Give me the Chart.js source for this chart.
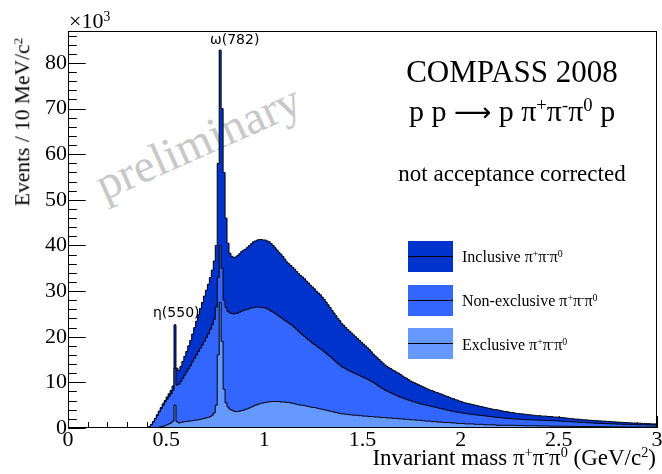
<!DOCTYPE html>
<html>
<head>
<meta charset="utf-8">
<script src="https://cdn.jsdelivr.net/npm/chart.js@4/dist/chart.umd.min.js"></script>
<style>
  body { margin: 0; background: #fff; }
  #wrap { position: relative; width: 662px; height: 474px; overflow: hidden; }
  #wrap canvas { position: absolute; left: 0; top: 0; z-index: 1; }
  .t { position: absolute; white-space: nowrap; line-height: 1; z-index: 2; color: #000;
       font-family: "Liberation Serif", "DejaVu Serif", serif; }
  .t sup { font-size: 62%; vertical-align: 0.55em; line-height: 0; }
  .sans { font-family: "DejaVu Sans", sans-serif; }
  .prelim { position: absolute; z-index: 0; left: 198px; top: 142px; font-size: 47px; color: #c8c8c8;
            font-family: "Liberation Serif", serif; line-height: 1; white-space: nowrap;
            transform: translate(-50%, -50%) rotate(-24deg); }
  .box { position: absolute; left: 408px; width: 45px; height: 31px; z-index: 2; }
  .box::after { content: ""; position: absolute; left: 0; right: 0; top: 15px; height: 1px; background: #000; }
</style>
</head>
<body>
<div id="wrap">
  <div class="prelim">preliminary</div>
  <canvas id="c" width="662" height="474"></canvas>

  <div class="t" style="left:69px; top:10px; font-size:22px;">&times;10<sup>3</sup></div>
  <div class="t" style="left:23px; top:122px; font-size:21.5px; transform: translate(-50%,-50%) rotate(-90deg);">Events / 10 MeV/c<sup>2</sup></div>
  <div class="t" style="right:6px; top:446px; font-size:23px;">Invariant mass &pi;<sup>+</sup>&pi;<sup>-</sup>&pi;<sup>0</sup> (GeV/c<sup>2</sup>)</div>

  <div class="t" style="left:512px; top:56px; font-size:31px; transform: translateX(-50%);">COMPASS 2008</div>
  <div class="t" style="left:512px; top:96px; font-size:30px; transform: translateX(-50%);">p p <span style="font-family:'DejaVu Sans'; font-size:26px;">&#x27F6;</span> p &pi;<sup>+</sup>&pi;<sup>-</sup>&pi;<sup>0</sup> p</div>
  <div class="t" style="left:512px; top:162px; font-size:23px; transform: translateX(-50%);">not acceptance corrected</div>

  <div class="t sans" style="left:153px; top:305px; font-size:14px;">&eta;(550)</div>
  <div class="t sans" style="left:210px; top:32px; font-size:14px;">&omega;(782)</div>

  <div class="box" style="top:241px; background:#0033cc;"></div>
  <div class="box" style="top:285px; background:#3366ff;"></div>
  <div class="box" style="top:328px; background:#6699ff;"></div>
  <div class="t" style="left:462px; top:249px; font-size:16px;">Inclusive &pi;<sup>+</sup>&pi;<sup>-</sup>&pi;<sup>0</sup></div>
  <div class="t" style="left:462px; top:293px; font-size:16px;">Non-exclusive &pi;<sup>+</sup>&pi;<sup>-</sup>&pi;<sup>0</sup></div>
  <div class="t" style="left:462px; top:337px; font-size:16px;">Exclusive &pi;<sup>+</sup>&pi;<sup>-</sup>&pi;<sup>0</sup></div>
</div>

<script>
// histogram bins: 10 MeV wide, first stored bin starts at 0.40 GeV (all lower bins are empty)
const firstBin = 40;      // in units of 10 MeV
const lastEdge = 3.0;     // GeV

// events per bin (x10^3)
const inclusive = [
  0, 0, 0.3, 0.8, 1.4, 2.1, 2.9, 3.7, 4.5, 5.3,
  6.0, 6.8, 7.5, 8.2, 9.2, 22.6, 13.1, 12.6, 13.5, 14.6,
  15.7, 16.8, 18.0, 19.2, 20.6, 22.0, 23.4, 24.8, 26.2, 27.5,
  28.9, 30.2, 31.5, 33.0, 34.6, 36.6, 40.0, 58.0, 82.8, 70.0,
  56.0, 46.0, 40.5, 38.3, 37.6, 37.4, 37.5, 37.8, 38.2, 38.7,
  39.0, 39.2, 39.6, 40.0, 40.4, 40.8, 41.0, 41.2, 41.3, 41.3,
  41.2, 41.2, 41.0, 40.8, 40.4, 40.0, 39.5, 39.0, 38.5, 38.1,
  37.6, 37.0, 36.4, 36.0, 35.6, 35.2, 34.8, 34.3, 33.8, 33.4,
  33.1, 32.7, 32.2, 31.8, 31.3, 30.9, 30.5, 30.0, 29.6, 29.2,
  28.7, 28.2, 27.6, 27.0, 26.4, 25.8, 25.2, 24.6, 24.0, 23.5,
  22.9, 22.5, 22.0, 21.6, 21.2, 20.8, 20.4, 20.0, 19.6, 19.2,
  18.8, 18.4, 18.0, 17.6, 17.2, 16.7, 16.2, 15.8, 15.4, 15.0,
  14.6, 14.2, 13.8, 13.5, 13.2, 13.0, 12.7, 12.5, 12.2, 12.0,
  11.7, 11.4, 11.1, 10.9, 10.6, 10.3, 10.1, 9.9, 9.7, 9.5,
  9.3, 9.1, 8.9, 8.7, 8.5, 8.3, 8.2, 8.0, 7.8, 7.7,
  7.5, 7.4, 7.2, 7.0, 6.9, 6.7, 6.5, 6.4, 6.2, 6.1,
  5.9, 5.8, 5.6, 5.5, 5.4, 5.3, 5.2, 5.1, 5.0, 4.9,
  4.8, 4.7, 4.6, 4.5, 4.4, 4.3, 4.2, 4.1, 4.0, 4.0,
  3.9, 3.8, 3.7, 3.6, 3.6, 3.5, 3.4, 3.4, 3.3, 3.2,
  3.2, 3.1, 3.1, 3.0, 3.0, 2.9, 2.9, 2.8, 2.8, 2.7,
  2.7, 2.7, 2.6, 2.6, 2.6, 2.5, 2.5, 2.5, 2.4, 2.4,
  2.4, 2.35, 2.3, 2.25, 2.2, 2.15, 2.1, 2.05, 2.0, 1.95,
  1.95, 1.9, 1.85, 1.8, 1.8, 1.75, 1.7, 1.7, 1.65, 1.6,
  1.6, 1.55, 1.55, 1.5, 1.5, 1.45, 1.45, 1.4, 1.35, 1.35,
  1.3, 1.3, 1.25, 1.25, 1.2, 1.2, 1.15, 1.15, 1.1, 1.1,
  1.1, 1.05, 1.05, 1.0, 1.0, 1.0, 0.95, 0.95, 0.9, 0.9
];

const nonExclusive = [
  0, 0, 0.2, 0.7, 1.3, 2.0, 2.7, 3.5, 4.2, 5.0,
  5.7, 6.3, 6.9, 7.5, 8.2, 13.1, 9.4, 9.6, 10.2, 10.9,
  11.6, 12.3, 13.0, 13.7, 14.5, 15.3, 16.0, 16.8, 17.5, 18.2,
  19.0, 19.8, 20.6, 21.6, 22.6, 23.8, 26.5, 33.0, 40.0, 35.0,
  28.0, 26.4, 25.6, 25.2, 25.1, 25.0, 25.1, 25.2, 25.4, 25.6,
  25.8, 25.9, 26.0, 26.2, 26.3, 26.4, 26.5, 26.5, 26.5, 26.4,
  26.4, 26.3, 26.1, 25.9, 25.6, 25.4, 25.1, 24.8, 24.5, 24.2,
  23.9, 23.6, 23.3, 23.0, 22.7, 22.4, 22.0, 21.6, 21.2, 20.8,
  20.4, 20.1, 19.7, 19.3, 19.0, 18.6, 18.3, 18.0, 17.7, 17.4,
  17.1, 16.7, 16.4, 16.0, 15.7, 15.3, 14.9, 14.5, 14.1, 13.8,
  13.4, 13.2, 13.0, 12.7, 12.5, 12.3, 12.1, 11.9, 11.7, 11.5,
  11.3, 11.1, 10.9, 10.7, 10.5, 10.2, 10.0, 9.7, 9.4, 9.1,
  8.8, 8.6, 8.3, 8.1, 7.9, 7.7, 7.5, 7.3, 7.1, 6.9,
  6.7, 6.6, 6.4, 6.3, 6.1, 6.0, 5.8, 5.7, 5.6, 5.4,
  5.3, 5.2, 5.1, 5.0, 4.9, 4.8, 4.7, 4.6, 4.5, 4.4,
  4.3, 4.2, 4.1, 4.0, 3.9, 3.8, 3.7, 3.6, 3.5, 3.45,
  3.4, 3.3, 3.25, 3.2, 3.1, 3.05, 3.0, 2.95, 2.9, 2.85,
  2.8, 2.75, 2.7, 2.65, 2.6, 2.55, 2.5, 2.45, 2.4, 2.35,
  2.3, 2.25, 2.2, 2.15, 2.1, 2.1, 2.05, 2.0, 2.0, 1.95,
  1.95, 1.9, 1.9, 1.85, 1.85, 1.8, 1.8, 1.8, 1.75, 1.75,
  1.75, 1.7, 1.7, 1.7, 1.65, 1.65, 1.65, 1.6, 1.6, 1.6,
  1.55, 1.5, 1.5, 1.45, 1.45, 1.4, 1.4, 1.35, 1.35, 1.3,
  1.3, 1.25, 1.25, 1.2, 1.2, 1.15, 1.15, 1.1, 1.1, 1.05,
  1.05, 1.0, 1.0, 1.0, 0.95, 0.95, 0.95, 0.9, 0.9, 0.9,
  0.85, 0.85, 0.85, 0.8, 0.8, 0.8, 0.8, 0.75, 0.75, 0.75,
  0.75, 0.7, 0.7, 0.7, 0.7, 0.7, 0.65, 0.65, 0.65, 0.65
];

const exclusive = [
  0, 0, 0, 0, 0, 0.05, 0.1, 0.2, 0.3, 0.4,
  0.5, 0.7, 0.9, 1.1, 1.5, 5.0, 1.4, 1.1, 1.2, 1.3,
  1.4, 1.45, 1.5, 1.55, 1.6, 1.7, 1.75, 1.8, 1.9, 2.0,
  2.1, 2.2, 2.3, 2.5, 2.8, 3.3, 5.0, 16.0, 27.5, 19.0,
  8.5, 5.5, 4.6, 4.1, 3.9, 3.7, 3.6, 3.6, 3.7, 3.8,
  3.9, 4.1, 4.2, 4.4, 4.6, 4.8, 5.0, 5.1, 5.3, 5.4,
  5.5, 5.6, 5.7, 5.7, 5.8, 5.8, 5.8, 5.8, 5.8, 5.7,
  5.7, 5.7, 5.6, 5.6, 5.5, 5.4, 5.3, 5.2, 5.1, 5.0,
  5.0, 4.9, 4.8, 4.7, 4.6, 4.5, 4.5, 4.4, 4.3, 4.2,
  4.1, 4.0, 3.9, 3.8, 3.7, 3.6, 3.5, 3.4, 3.3, 3.2,
  3.1, 3.1, 3.0, 3.0, 2.9, 2.9, 2.8, 2.8, 2.8, 2.7,
  2.7, 2.6, 2.6, 2.6, 2.5, 2.5, 2.5, 2.4, 2.4, 2.4,
  2.3, 2.3, 2.3, 2.2, 2.2, 2.2, 2.1, 2.1, 2.1, 2.0,
  2.0, 2.0, 1.9, 1.9, 1.9, 1.8, 1.8, 1.8, 1.7, 1.7,
  1.7, 1.6, 1.6, 1.5, 1.5, 1.5, 1.4, 1.4, 1.4, 1.3,
  1.3, 1.3, 1.2, 1.2, 1.2, 1.2, 1.1, 1.1, 1.1, 1.0,
  1.0, 1.0, 1.0, 0.9, 0.9, 0.9, 0.9, 0.9, 0.8, 0.8,
  0.8, 0.8, 0.8, 0.7, 0.7, 0.7, 0.7, 0.7, 0.7, 0.6,
  0.6, 0.6, 0.6, 0.6, 0.6, 0.6, 0.6, 0.6, 0.6, 0.55,
  0.55, 0.55, 0.55, 0.5, 0.5, 0.5, 0.5, 0.5, 0.5, 0.5,
  0.45, 0.45, 0.45, 0.45, 0.45, 0.45, 0.4, 0.4, 0.4, 0.4,
  0.4, 0.4, 0.4, 0.38, 0.38, 0.36, 0.36, 0.35, 0.35, 0.34,
  0.34, 0.33, 0.33, 0.32, 0.32, 0.31, 0.31, 0.3, 0.3, 0.3,
  0.29, 0.29, 0.28, 0.28, 0.28, 0.27, 0.27, 0.26, 0.26, 0.26,
  0.25, 0.25, 0.25, 0.24, 0.24, 0.24, 0.23, 0.23, 0.23, 0.22,
  0.22, 0.22, 0.21, 0.21, 0.21, 0.2, 0.2, 0.2, 0.2, 0.2
];

const seriesNames = ['Inclusive', 'Non-exclusive', 'Exclusive'];
const seriesColors = ['#0033cc', '#3366ff', '#6699ff'];

// turn bin contents into step points (low edge of each bin + closing edge)
function toSteps(arr) {
  const pts = [{x: 0, y: 0}];
  arr.forEach((v, i) => pts.push({x: (firstBin + i) / 100, y: v}));
  pts.push({x: lastEdge, y: arr[arr.length - 1]});
  return pts;
}

// ROOT-like axes: ticks inside the frame, drawn under the histograms
const rootFrame = {
  id: 'rootFrame',
  beforeDatasetsDraw(chart) {
    const {ctx, chartArea: a, scales: {x, y}} = chart;
    ctx.save();
    ctx.strokeStyle = '#000';
    ctx.lineWidth = 1;
    ctx.beginPath();
    for (let v = 0; v <= 86; v += 2) {
      const py = Math.round(y.getPixelForValue(v)) + 0.5;
      const len = v % 10 === 0 ? 17.7 : 8.8;
      ctx.moveTo(a.left, py);
      ctx.lineTo(a.left + len, py);
    }
    for (let i = 0; i <= 30; i++) {
      const px = Math.round(x.getPixelForValue(i / 10)) + 0.5;
      const len = i % 5 === 0 ? 11.9 : 6;
      ctx.moveTo(px, a.bottom);
      ctx.lineTo(px, a.bottom - len);
    }
    ctx.stroke();
    ctx.restore();
  },
  afterDatasetsDraw(chart) {
    const {ctx, chartArea: a} = chart;
    ctx.save();
    ctx.strokeStyle = '#000';
    ctx.lineWidth = 1;
    ctx.strokeRect(Math.round(a.left) + 0.5, Math.round(a.top) + 0.5,
                   Math.round(a.right - a.left) - 1, Math.round(a.bottom - a.top) - 1);
    ctx.restore();
  }
};

const ctx = document.getElementById('c').getContext('2d');
new Chart(ctx, {
  type: 'line',
  data: {
    datasets: [inclusive, nonExclusive, exclusive].map((arr, i) => ({
      label: seriesNames[i],
      data: toSteps(arr),
      stepped: 'after',
      fill: 'origin',
      backgroundColor: seriesColors[i],
      borderColor: '#000',
      borderWidth: 1,
      pointRadius: 0,
      tension: 0,
      order: 3 - i
    }))
  },
  options: {
    responsive: false,
    animation: false,
    events: [],
    layout: { padding: { left: 0, top: 31, right: 5, bottom: 0 } },
    plugins: {
      legend: { display: false },
      tooltip: { enabled: false }
    },
    scales: {
      x: {
        type: 'linear',
        min: 0,
        max: 3,
        grid: { display: false, drawTicks: false },
        border: { display: false },
        ticks: {
          stepSize: 0.5,
          maxRotation: 0,
          padding: 1,
          color: '#000',
          font: { family: 'Liberation Serif', size: 22, lineHeight: 1 },
          callback: (v) => String(Math.round(v * 10) / 10)
        },
        afterFit(scale) { scale.height = 46; scale.paddingLeft = 0; scale.paddingRight = 0; }
      },
      y: {
        min: 0,
        max: 87,
        grid: { display: false, drawTicks: false },
        border: { display: false },
        ticks: {
          stepSize: 10,
          includeBounds: false,
          padding: 1,
          color: '#000',
          font: { family: 'Liberation Serif', size: 22, lineHeight: 1 }
        },
        afterFit(scale) { scale.width = 68; scale.paddingTop = 0; scale.paddingBottom = 0; }
      }
    }
  },
  plugins: [rootFrame]
});
</script>
</body>
</html>
